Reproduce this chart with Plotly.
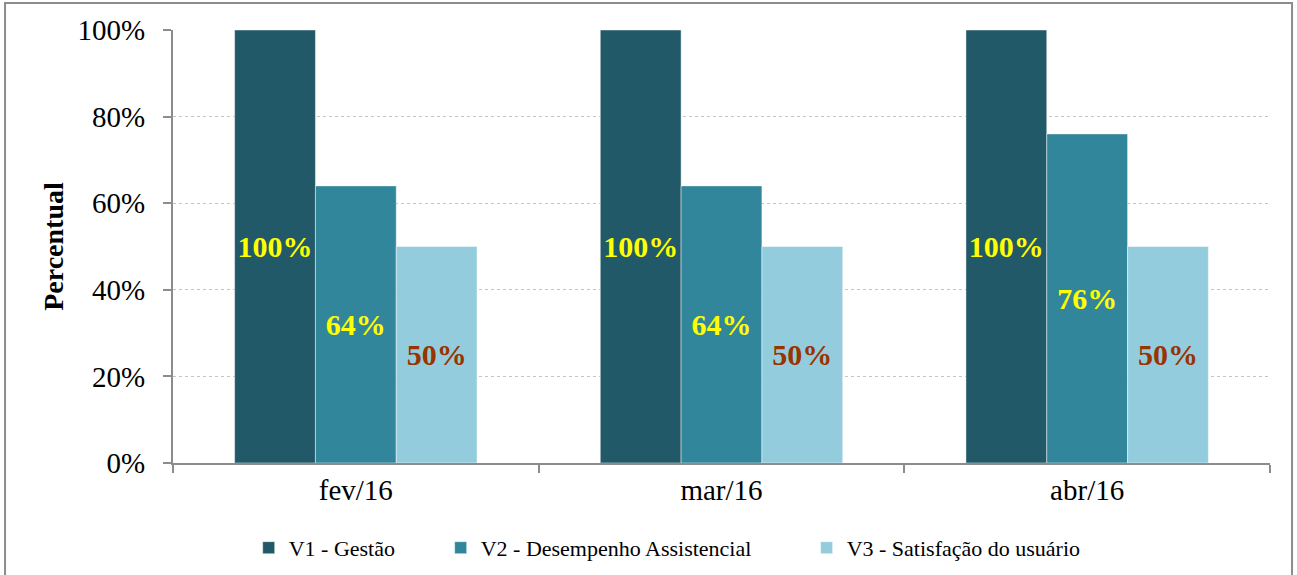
import plotly.graph_objects as go

categories = ["fev/16", "mar/16", "abr/16"]
series_names = ["V1 - Gestão", "V2 - Desempenho Assistencial", "V3 - Satisfação do usuário"]
v1 = [1.00, 1.00, 1.00]
v2 = [0.64, 0.64, 0.76]
v3 = [0.50, 0.50, 0.50]
y_ticks = [0, 0.2, 0.4, 0.6, 0.8, 1.0]
y_tick_labels = ["0%", "20%", "40%", "60%", "80%", "100%"]

colors = ["#225968", "#31869B", "#93CDDD"]
text_colors = ["#FFFF00", "#FFFF00", "#993300"]
legends = ["legend", "legend2", "legend3"]
FONT = "Liberation Serif, Times New Roman, serif"

fig = go.Figure()
for name, vals, col, tcol, lg in zip(series_names, [v1, v2, v3], colors, text_colors, legends):
    fig.add_trace(go.Bar(
        x=categories, y=vals, name=name,
        marker=dict(color=col, line=dict(color="rgba(255,255,255,0.45)", width=1)),
        text=[f"{round(v*100)}%" for v in vals],
        textposition="inside", insidetextanchor="middle",
        textfont=dict(family=FONT, size=30, color=tcol, weight="bold"),
        textangle=0, constraintext="none",
        legend=lg, showlegend=True,
    ))

legend_common = dict(orientation="h", yanchor="middle", xanchor="left", y=-0.196,
                     font=dict(family=FONT, size=22, color="#000000"),
                     bgcolor="rgba(0,0,0,0)", itemwidth=30, visible=True)
fig.update_layout(
    width=1297, height=575,
    margin=dict(l=173, r=27, t=30, b=112, autoexpand=False),
    paper_bgcolor="white", plot_bgcolor="white",
    showlegend=True,
    barmode="group", bargap=0.337, bargroupgap=0,
    font=dict(family=FONT, color="#000000"),
    legend=dict(x=0.0690, **legend_common),
    legend2=dict(x=0.2440, **legend_common),
    legend3=dict(x=0.5776, **legend_common),
    xaxis=dict(
        showline=True, linecolor="#8c8c8c", linewidth=2,
        ticks="outside", tickson="boundaries", ticklen=8, tickcolor="#8c8c8c", tickwidth=2,
        tickfont=dict(family=FONT, size=29, color="#000000"),
        showgrid=False, automargin=False,
    ),
    yaxis=dict(
        range=[0, 1.0], tickvals=y_ticks, ticktext=y_tick_labels,
        showline=True, linecolor="#8c8c8c", linewidth=2,
        ticks="outside", ticklen=8, tickcolor="#8c8c8c", tickwidth=2,
        ticklabelstandoff=12,
        tickfont=dict(family=FONT, size=29, color="#000000"),
        showgrid=True, gridcolor="#c4c4c4", griddash="dot", gridwidth=1,
        zeroline=False, automargin=False,
        title=dict(text="<b>Percentual</b>", font=dict(family=FONT, size=28, color="#000000"), standoff=6),
    ),
)
fig.add_shape(type="rect", xref="paper", yref="paper",
              x0=-0.1531, x1=1.0201, y0=-0.30, y1=1.0624,
              line=dict(color="#8c8c8c", width=2), fillcolor="rgba(0,0,0,0)", layer="above")
fig.write_html("out.html", config={"displayModeBar": False},
               post_script="document.body.style.margin='0';")
